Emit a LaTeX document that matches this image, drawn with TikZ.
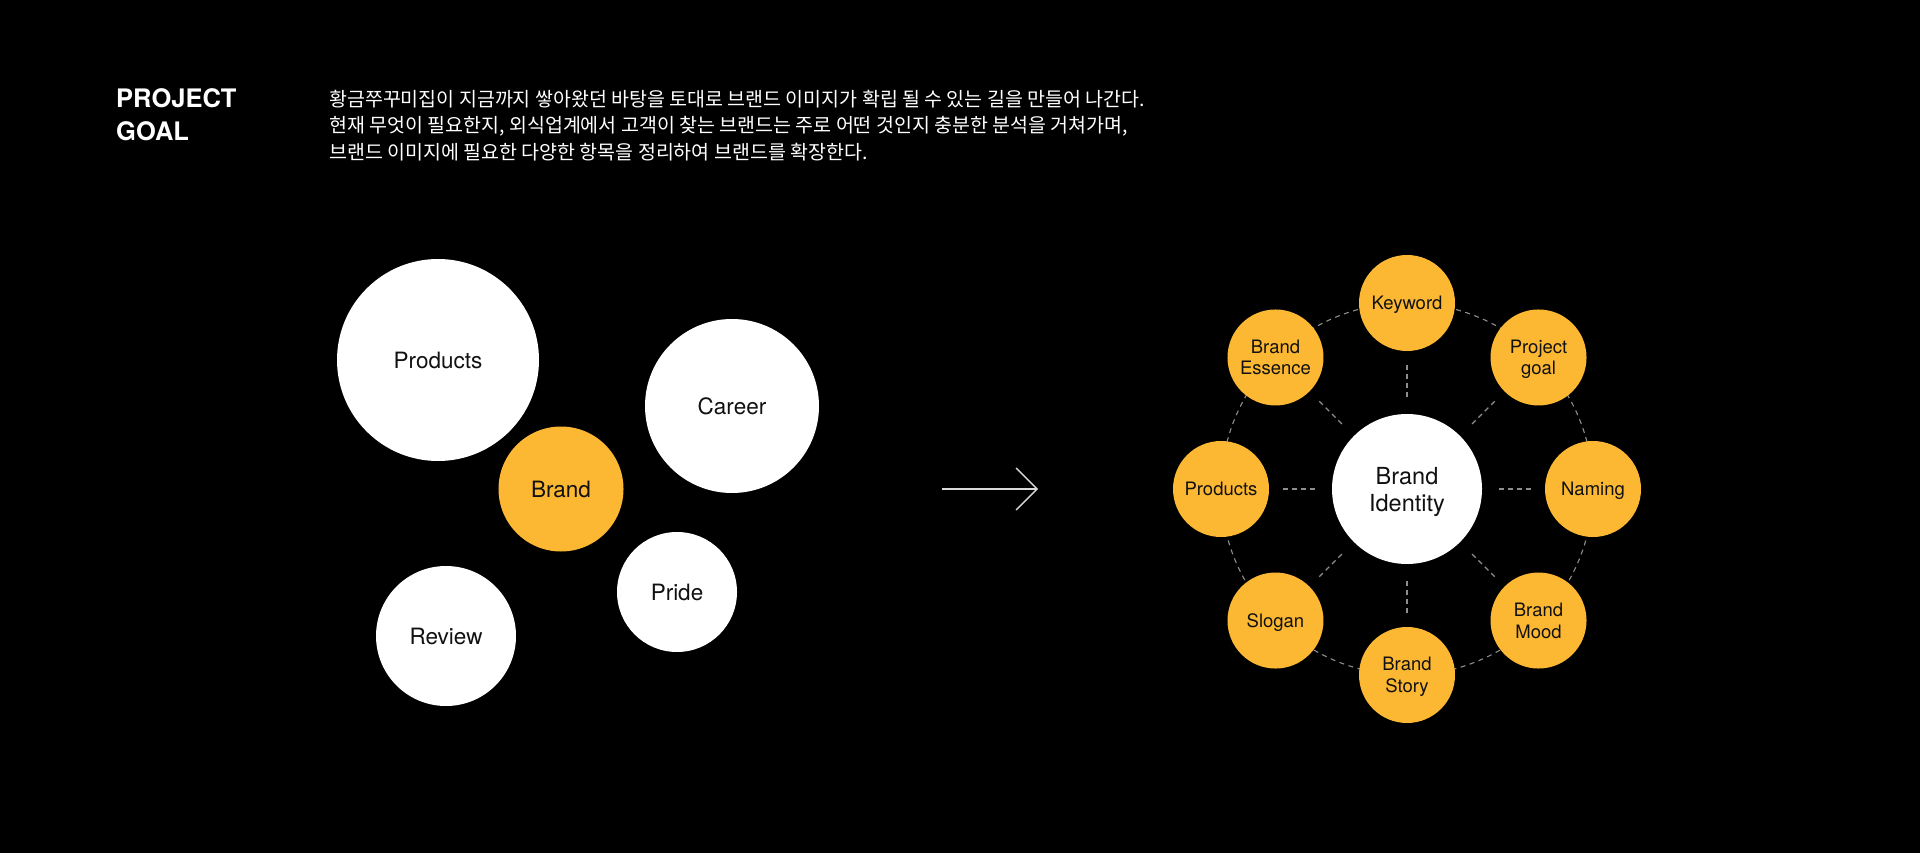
\documentclass[tikz,border=0pt]{standalone}
\usepackage{fontspec}
\setmainfont{TeX Gyre Heros}
\newfontfamily\krfont{Noto Sans CJK KR}
\usetikzlibrary{calc,arrows.meta}
\definecolor{gold}{HTML}{FDB833}
\definecolor{dashgray}{HTML}{8E8E8E}
\definecolor{ink}{HTML}{111111}
\tikzset{
  bubble/.style={circle, fill=white, draw=none, text=ink, inner sep=0pt, align=center,
    text depth=0pt, font=\fontsize{22.5}{26}\selectfont},
  goldbubble/.style={bubble, fill=gold},
  satellite/.style={circle, fill=gold, draw=none, text=ink, inner sep=0pt, align=center,
    text depth=0pt, minimum size=96pt, font=\fontsize{18.5}{21.5}\selectfont},
  hub/.style={circle, fill=white, draw=none, text=ink, inner sep=0pt, align=center,
    text depth=0pt, minimum size=150pt, font=\fontsize{23.5}{27}\selectfont},
  spoke/.style={draw=dashgray, line width=1.1pt, dash pattern=on 5pt off 4pt},
  ringline/.style={draw=dashgray, line width=1.1pt, dash pattern=on 5pt off 4.5pt},
  arrowline/.style={draw=white!85!black, line width=1.4pt, -{Straight Barb[length=21pt,width=42pt,line width=1.4pt]}},
  titletext/.style={text=white, anchor=base west, inner sep=0pt, font=\fontsize{25.5}{33}\selectfont\bfseries},
  bodytext/.style={text=white, anchor=base west, inner sep=0pt, font=\krfont\fontsize{19.5}{26}\selectfont},
}
\begin{document}
\begin{tikzpicture}[x=1pt,y=-1pt]
\useasboundingbox (0,0) rectangle (1920,853);
\fill[black] (0,0) rectangle (1920,853);

% header
\node[titletext] (t1) at (116,108) {PROJECT};
\node[titletext] (t2) at (116,141) {GOAL};
\node[bodytext] (k1) at (329,106.5) {황금쭈꾸미집이 지금까지 쌓아왔던 바탕을 토대로 브랜드 이미지가 확립 될 수 있는 길을 만들어 나간다.};
\node[bodytext] (k2) at (329,133) {현재 무엇이 필요한지, 외식업계에서 고객이 찾는 브랜드는 주로 어떤 것인지 충분한 분석을 거쳐가며,};
\node[bodytext] (k3) at (329,159.5) {브랜드 이미지에 필요한 다양한 항목을 정리하여 브랜드를 확장한다.};

% left cluster
\node[bubble, minimum size=202pt] (lp) at (438,360) {Products};
\node[bubble, minimum size=174pt] (lc) at (732,406) {Career};
\node[goldbubble, minimum size=125pt] (lb) at (561,489) {Brand};
\node[bubble, minimum size=120pt] (lr) at (677,592) {Pride};
\node[bubble, minimum size=140pt] (lv) at (446,636) {Review};

% arrow
\coordinate (aS) at (942,489);
\coordinate (aE) at (1038,489);
\draw[arrowline] (aS) -- (aE);

% right diagram
\coordinate (c) at (1407,489);
\draw[ringline] (c) circle (186pt);
\node[hub] (bi) at (c) {Brand\\Identity};
\node[satellite] (s1) at ($(c)+(90:186pt)$) {Keyword};
\node[satellite] (s2) at ($(c)+(45:186pt)$) {Project\\goal};
\node[satellite] (s3) at ($(c)+(0:186pt)$) {Naming};
\node[satellite] (s4) at ($(c)+(-45:186pt)$) {Brand\\Mood};
\node[satellite] (s5) at ($(c)+(-90:186pt)$) {Brand\\Story};
\node[satellite] (s6) at ($(c)+(-135:186pt)$) {Slogan};
\node[satellite] (s7) at ($(c)+(180:186pt)$) {Products};
\node[satellite] (s8) at ($(c)+(135:186pt)$) {Brand\\Essence};

\foreach \s in {s1,s2,s3,s4,s5,s6,s7,s8}{
  \draw[spoke] ($(bi.center)!0.495!(\s.center)$) -- ($(bi.center)!0.667!(\s.center)$);
}
\end{tikzpicture}
\end{document}
